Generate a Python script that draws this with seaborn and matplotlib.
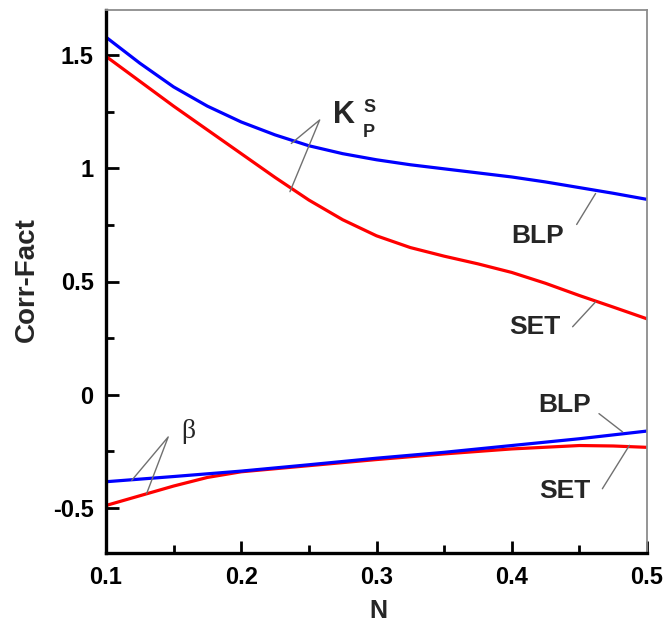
import matplotlib
matplotlib.use("Agg")
import matplotlib.pyplot as plt
import seaborn as sns
import pandas as pd
from matplotlib.ticker import FixedLocator, MultipleLocator, FixedFormatter

# ---- data ----
N_K = [0.100, 0.125, 0.150, 0.175, 0.200, 0.225, 0.250, 0.275, 0.300,
       0.325, 0.350, 0.375, 0.400, 0.425, 0.450, 0.475, 0.500]
K_BLP = [1.580, 1.465, 1.360, 1.275, 1.205, 1.148, 1.100, 1.065, 1.038,
         1.016, 0.998, 0.980, 0.962, 0.940, 0.915, 0.890, 0.863]
K_SET = [1.495, 1.385, 1.275, 1.170, 1.065, 0.960, 0.860, 0.773, 0.702,
         0.650, 0.612, 0.578, 0.540, 0.492, 0.438, 0.387, 0.335]

N_BETA_BLP = [0.10, 0.15, 0.20, 0.25, 0.30, 0.35, 0.40, 0.45, 0.50]
BETA_BLP = [-0.385, -0.362, -0.338, -0.310, -0.281, -0.255, -0.225, -0.195, -0.161]

N_BETA_SET = [0.100, 0.125, 0.150, 0.175, 0.200, 0.250, 0.300, 0.350,
              0.400, 0.450, 0.475, 0.500]
BETA_SET = [-0.490, -0.447, -0.404, -0.366, -0.341, -0.314, -0.287, -0.262,
            -0.240, -0.225, -0.227, -0.233]

X_TICKS = [0.1, 0.2, 0.3, 0.4, 0.5]
X_TICK_LABELS = ["0.1", "0.2", "0.3", "0.4", "0.5"]
Y_TICKS = [-0.5, 0.0, 0.5, 1.0, 1.5]
Y_TICK_LABELS = ["-0.5", "0", "0.5", "1", "1.5"]

BLUE = "#0000ff"
RED = "#ff0000"

sns.set_style("white")
plt.rcParams["font.family"] = ["Liberation Sans", "DejaVu Sans"]

fig = plt.figure(figsize=(6.69, 6.22), dpi=100)
ax = fig.add_axes([106 / 669, 1 - 553 / 622, 541 / 669, 543 / 622])

curves = [
    (N_K, K_SET, RED),
    (N_BETA_SET, BETA_SET, RED),
    (N_K, K_BLP, BLUE),
    (N_BETA_BLP, BETA_BLP, BLUE),
]
for xs, ys, col in curves:
    df = pd.DataFrame({"N": xs, "v": ys})
    sns.lineplot(data=df, x="N", y="v", color=col, linewidth=2.3, ax=ax,
                 estimator=None, sort=False)

ax.set_xlim(0.1, 0.5)
ax.set_ylim(-0.7, 1.7)

ax.xaxis.set_major_locator(FixedLocator(X_TICKS))
ax.xaxis.set_major_formatter(FixedFormatter(X_TICK_LABELS))
ax.xaxis.set_minor_locator(MultipleLocator(0.05))
ax.yaxis.set_major_locator(FixedLocator(Y_TICKS))
ax.yaxis.set_major_formatter(FixedFormatter(Y_TICK_LABELS))
ax.yaxis.set_minor_locator(MultipleLocator(0.25))

ax.tick_params(which="both", direction="in", left=True, bottom=True,
               top=False, right=False, width=2, colors="black")
ax.tick_params(which="major", length=9)
ax.tick_params(which="minor", length=6)
ax.tick_params(axis="x", which="major", pad=9, labelsize=17)
ax.tick_params(axis="y", which="major", pad=9, labelsize=17)
for lab in ax.get_xticklabels() + ax.get_yticklabels():
    lab.set_fontweight("bold")

for s in ["left", "bottom"]:
    ax.spines[s].set_linewidth(2.4)
    ax.spines[s].set_color("black")
for s in ["top", "right"]:
    ax.spines[s].set_linewidth(1.3)
    ax.spines[s].set_color("#8c8c8c")

ax.set_xlabel("")
ax.set_ylabel("")
fig.text(378 / 669, 1 - 611 / 622, "N", fontsize=18, fontweight="bold",
         ha="center", va="center")
fig.text(27 / 669, 1 - 280 / 622, "Corr-Fact", fontsize=20, fontweight="bold",
         ha="center", va="center", rotation=90)

# leader lines
lc = dict(color="#707070", linewidth=1.0)
ax.plot([0.237, 0.258, 0.236], [1.11, 1.214, 0.897], **lc)
ax.plot([0.448, 0.462], [0.752, 0.889], **lc)
ax.plot([0.445, 0.462], [0.300, 0.410], **lc)
ax.plot([0.4645, 0.482], [-0.084, -0.165], **lc)
ax.plot([0.467, 0.487], [-0.416, -0.224], **lc)
ax.plot([0.119, 0.146, 0.130], [-0.379, -0.187, -0.438], **lc)

# labels
ax.text(0.276, 1.235, "K", fontsize=22, fontweight="bold", ha="center", va="center")
ax.text(0.295, 1.27, "S", fontsize=13, fontweight="bold", ha="center", va="center")
ax.text(0.294, 1.16, "P", fontsize=13, fontweight="bold", ha="center", va="center")
ax.text(0.419, 0.70, "BLP", fontsize=19, fontweight="bold", ha="center", va="center")
ax.text(0.417, 0.297, "SET", fontsize=19, fontweight="bold", ha="center", va="center")
ax.text(0.439, -0.044, "BLP", fontsize=19, fontweight="bold", ha="center", va="center")
ax.text(0.439, -0.425, "SET", fontsize=19, fontweight="bold", ha="center", va="center")
ax.text(0.161, -0.164, "β", fontsize=20, family=["Liberation Serif", "DejaVu Serif"],
        ha="center", va="center")

fig.savefig("out.png", dpi=100)
